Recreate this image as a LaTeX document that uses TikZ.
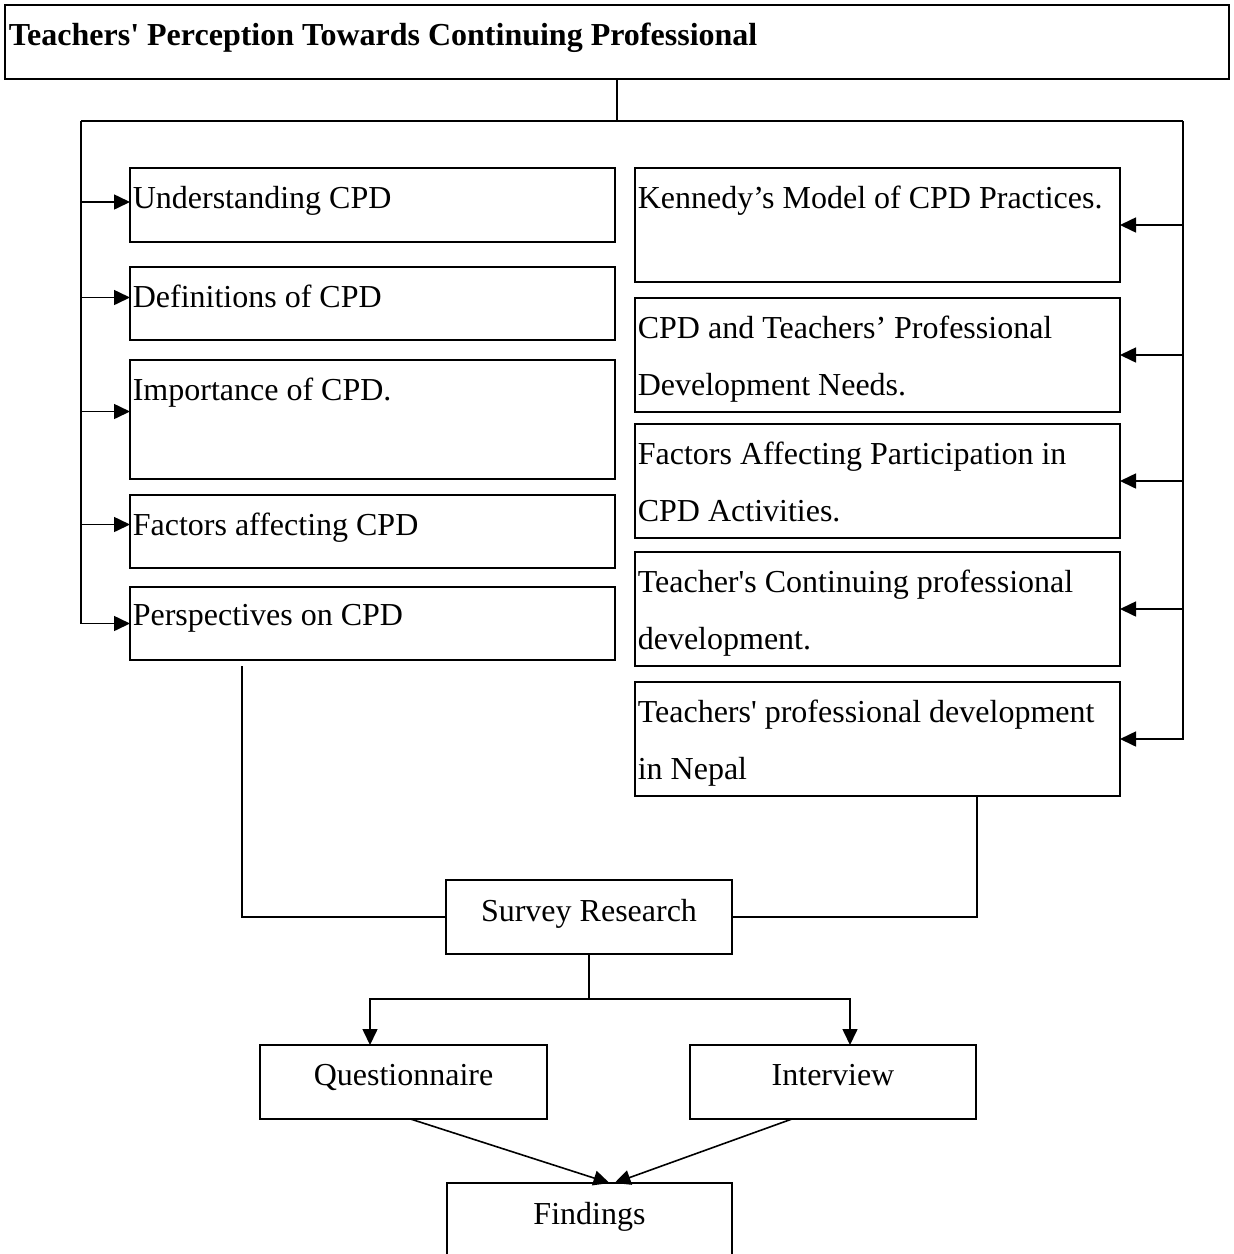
\documentclass[tikz,border=0pt]{standalone}
\usepackage{fontspec}
\newfontfamily\tnr{Liberation Serif}
\usetikzlibrary{arrows.meta}

\begin{document}
\begin{tikzpicture}[x=1pt,y=-1pt,line width=1.6pt,
  box/.style={draw,rectangle,inner sep=0pt,outer sep=0pt,line width=1.8pt},
  lbox/.style={box,minimum width=485pt},
  txt/.style={anchor=north west,inner xsep=2pt,inner ysep=17pt,align=left,font=\tnr\fontsize{32}{57}\selectfont},
  ctxt/.style={anchor=north,inner xsep=0pt,inner ysep=18pt,font=\tnr\fontsize{32}{57}\selectfont},
  tip/.style={-{Triangle[length=16pt,width=15pt]}}]
\useasboundingbox (0,0) rectangle (1234,1254);
\node[box,line width=2.2pt,minimum width=1224pt,minimum height=74pt,label={[txt,inner xsep=3pt,font=\tnr\bfseries\fontsize{32}{57}\selectfont]north west:Teachers' Perception Towards Continuing Professional}] (t) at (617,42) {};

\node[lbox,minimum height=74pt,label={[txt]north west:Understanding CPD}] (u1) at (372.5,205) {};
\node[lbox,minimum height=73pt,label={[txt]north west:Definitions of CPD}] (u2) at (372.5,303.5) {};
\node[lbox,minimum height=119pt,label={[txt]north west:Importance of CPD.}] (u3) at (372.5,419.5) {};
\node[lbox,minimum height=73pt,label={[txt]north west:Factors affecting CPD}] (u4) at (372.5,531.5) {};
\node[lbox,minimum height=73pt,label={[txt]north west:Perspectives on CPD}] (u5) at (372.5,623.5) {};

\node[lbox,minimum height=114pt,label={[txt]north west:Kennedy’s Model of CPD Practices.}] (k1) at (877.5,225) {};
\node[lbox,minimum height=114pt,label={[txt]north west:{CPD and Teachers’ Professional\\Development Needs.}}] (k2) at (877.5,355) {};
\node[lbox,minimum height=114pt,label={[txt]north west:{Factors Affecting Participation in\\CPD Activities.}}] (k3) at (877.5,481) {};
\node[lbox,minimum height=114pt,label={[txt]north west:{Teacher's Continuing professional\\development.}}] (k4) at (877.5,609) {};
\node[lbox,minimum height=114pt,label={[txt]north west:{Teachers' professional development\\in Nepal}}] (k5) at (877.5,739) {};

\node[box,minimum width=286pt,minimum height=74pt,label={[ctxt]north:Survey Research}] (sr) at (589,917) {};
\node[box,minimum width=287pt,minimum height=74pt,label={[ctxt]north:Questionnaire}] (qn) at (403.5,1082) {};
\node[box,minimum width=286pt,minimum height=74pt,label={[ctxt]north:Interview}] (iv) at (833,1082) {};
\node[box,minimum width=285pt,minimum height=74pt,label={[ctxt]north:Findings}] (fd) at (589.5,1220) {};

\coordinate (lb) at (81,121);
\coordinate (rb) at (1183,121);
\draw (t.south) -- (t.south |- lb);
\draw (lb) -- (rb);
\draw[tip] (lb) |- (u5.west);
\draw[tip] (rb) |- (k5.east);
\foreach \b/\s in {u1/3,u2/6,u3/8,u4/7}
  \draw[tip] ([yshift=\s pt]\b.west) ++(-49,0) -- ([yshift=\s pt]\b.west);
\foreach \b in {k1,k2,k3,k4}
  \draw[tip] (rb |- \b.east) -- (\b.east);

\draw (u5.south west) ++(112,6) |- (sr.west);
\draw (k5.south west) ++(342,0) |- (sr.east);
\draw (sr.south) -- ++(0,45) coordinate (fk);
\draw[tip] (fk) -| ([xshift=-33.5pt]qn.north);
\draw[tip] (fk) -| ([xshift=17pt]iv.north);
\draw[tip] ([xshift=7pt]qn.south) -- ([xshift=20pt]fd.north);
\draw[tip] ([xshift=-41pt]iv.south) -- ([xshift=25pt]fd.north);
\end{tikzpicture}
\end{document}
